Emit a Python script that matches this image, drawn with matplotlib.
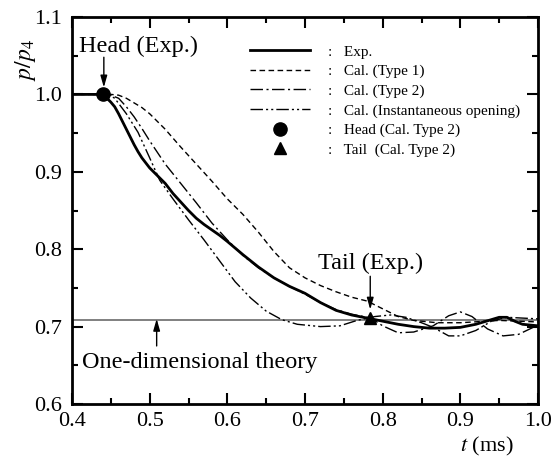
import matplotlib
matplotlib.use("Agg")
import matplotlib.pyplot as plt

plt.rcParams['font.family'] = ['Liberation Serif', 'DejaVu Serif']
plt.rcParams['mathtext.fontset'] = 'stix'

# ---- data ----
t_exp = [0.40, 0.44, 0.445, 0.45, 0.455, 0.46, 0.465, 0.47, 0.475, 0.48, 0.485, 0.49, 0.50, 0.51, 0.52,
         0.53, 0.54, 0.55, 0.56, 0.57, 0.58, 0.59, 0.60, 0.62, 0.64, 0.66, 0.68, 0.70, 0.72, 0.74,
         0.76, 0.78, 0.80, 0.82, 0.84, 0.86, 0.88, 0.90, 0.92, 0.94, 0.95, 0.96, 0.97, 0.98, 1.00]
p_exp = [1.0, 1.0, 0.995, 0.990, 0.984, 0.975, 0.965, 0.955, 0.945, 0.935, 0.926, 0.918, 0.905, 0.895, 0.885,
         0.872, 0.861, 0.850, 0.840, 0.832, 0.825, 0.818, 0.810, 0.793, 0.777, 0.763, 0.752, 0.743, 0.731, 0.721,
         0.715, 0.711, 0.707, 0.703, 0.700, 0.698, 0.698, 0.699, 0.703, 0.709, 0.712, 0.712, 0.707, 0.703, 0.701]

t_type1 = [0.40, 0.44, 0.45, 0.46, 0.47, 0.48, 0.49, 0.50, 0.52, 0.54, 0.56, 0.58, 0.60, 0.62, 0.64,
           0.66, 0.68, 0.70, 0.72, 0.74, 0.76, 0.78, 0.80, 0.82, 0.84, 0.87, 0.90, 0.95, 1.00]
p_type1 = [1.0, 1.0, 1.0, 0.999, 0.995, 0.989, 0.983, 0.975, 0.955, 0.932, 0.910, 0.888, 0.865, 0.845, 0.822,
           0.797, 0.776, 0.763, 0.753, 0.745, 0.738, 0.733, 0.723, 0.713, 0.708, 0.705, 0.705, 0.708, 0.706]

t_type2 = [0.40, 0.44, 0.45, 0.46, 0.47, 0.48, 0.49, 0.50, 0.52, 0.54, 0.56, 0.58, 0.60, 0.62, 0.64,
           0.66, 0.68, 0.70, 0.72, 0.74, 0.76, 0.785, 0.80, 0.82, 0.84, 0.865, 0.885, 0.90, 0.915, 0.935,
           0.955, 0.975, 1.00]
p_type2 = [1.0, 1.0, 0.999, 0.995, 0.984, 0.971, 0.956, 0.940, 0.910, 0.885, 0.860, 0.834, 0.812, 0.792, 0.776,
           0.763, 0.752, 0.742, 0.731, 0.722, 0.716, 0.711, 0.701, 0.692, 0.693, 0.701, 0.714, 0.719, 0.713, 0.697,
           0.688, 0.690, 0.702]

t_inst = [0.40, 0.44, 0.45, 0.455, 0.47, 0.485, 0.50, 0.513, 0.53, 0.55, 0.57, 0.59, 0.61, 0.63, 0.65,
          0.67, 0.69, 0.72, 0.745, 0.767, 0.79, 0.81, 0.83, 0.85, 0.865, 0.885, 0.90, 0.92, 0.94, 0.96,
          0.98, 1.00]
p_inst = [1.0, 1.0, 0.998, 0.995, 0.975, 0.951, 0.918, 0.889, 0.865, 0.838, 0.812, 0.785, 0.758, 0.737, 0.720,
          0.709, 0.703, 0.700, 0.701, 0.708, 0.713, 0.715, 0.712, 0.705, 0.699, 0.688, 0.688, 0.695, 0.707, 0.712,
          0.711, 0.710]

head_cal = (0.44, 1.0)
tail_cal = (0.784, 0.711)
theory_p = 0.709

xticks = [0.4, 0.5, 0.6, 0.7, 0.8, 0.9, 1.0]
yticks = [0.6, 0.7, 0.8, 0.9, 1.0, 1.1]

# ---- figure ----
fig = plt.figure(figsize=(5.57, 4.57), dpi=100)
ax = fig.add_axes([72/557, 53/457, 466/557, 387/457])

ax.axhline(theory_p, color='#808080', lw=1.4, zorder=1)
l_exp, = ax.plot(t_exp, p_exp, color='black', lw=2.0, zorder=4)
l_t1, = ax.plot(t_type1, p_type1, color='black', lw=1.0, linestyle=(0, (4, 2.5)), zorder=3)
l_t2, = ax.plot(t_type2, p_type2, color='black', lw=1.0, linestyle=(0, (9, 2.5, 1.5, 2.5)), zorder=3)
l_in, = ax.plot(t_inst, p_inst, color='black', lw=1.0, linestyle=(0, (9, 2.2, 1.5, 2.2, 1.5, 2.2)), zorder=3)
h_mk, = ax.plot([head_cal[0]], [head_cal[1]], 'o', color='black', ms=9.5, zorder=5)
t_mk, = ax.plot([tail_cal[0]], [tail_cal[1]], '^', color='black', ms=8.5, zorder=5)

ax.set_xlim(0.4, 1.0)
ax.set_ylim(0.6, 1.1)
ax.set_xticks(xticks)
ax.set_xticklabels([f"{v:.1f}" for v in xticks])
ax.set_yticks(yticks)
ax.set_yticklabels([f"{v:.1f}" for v in yticks])
ax.set_xticks([0.45, 0.55, 0.65, 0.75, 0.85, 0.95], minor=True)
ax.set_yticks([0.65, 0.75, 0.85, 0.95, 1.05], minor=True)
ax.tick_params(which='both', direction='in', top=True, right=True, width=1.5, labelsize=16, colors='black')
ax.tick_params(which='major', length=8)
ax.tick_params(which='minor', length=4)
ax.tick_params(axis='x', which='major', pad=6)
ax.tick_params(axis='y', which='major', pad=7)
for s in ax.spines.values():
    s.set_linewidth(2.0)

ax.text(-0.10, 0.89, r'$p/p_4$', transform=ax.transAxes, rotation=90, fontsize=17,
        ha='center', va='center')
ax.text(0.89, -0.11, r'$t$ (ms)', transform=ax.transAxes, fontsize=16, ha='center', va='center')

arrow = dict(arrowstyle='-|>,head_length=0.7,head_width=0.2', color='black', lw=1.0, shrinkA=0, shrinkB=0)
# Head (Exp.)
ax.text(0.4855, 1.062, 'Head (Exp.)', fontsize=17.5, ha='center', va='center')
ax.annotate('', xy=(0.441, 1.009), xytext=(0.441, 1.048), arrowprops=arrow)
# Tail (Exp.)
ax.text(0.784, 0.781, 'Tail (Exp.)', fontsize=17.5, ha='center', va='center')
ax.annotate('', xy=(0.784, 0.722), xytext=(0.784, 0.765), arrowprops=arrow)
# One-dimensional theory
ax.text(0.565, 0.654, 'One-dimensional theory', fontsize=17.5, ha='center', va='center')
ax.annotate('', xy=(0.509, 0.710), xytext=(0.509, 0.675), arrowprops=arrow)

handles = [l_exp, l_t1, l_t2, l_in, h_mk, t_mk]
labels = [':   Exp.', ':   Cal. (Type 1)', ':   Cal. (Type 2)', ':   Cal. (Instantaneous opening)',
          ':   Head (Cal. Type 2)', ':   Tail  (Cal. Type 2)']
leg = ax.legend(handles, labels, loc='upper left', bbox_to_anchor=(0.382, 0.928), frameon=False,
                fontsize=11, handlelength=3.9, handletextpad=1.2, labelspacing=0.38,
                numpoints=1, borderaxespad=0, borderpad=0)

fig.savefig('out.png', dpi=100)
